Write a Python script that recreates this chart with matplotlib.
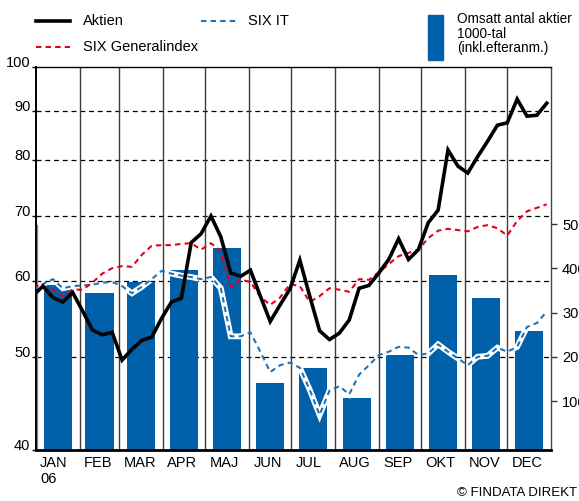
import matplotlib
matplotlib.use("Agg")
import matplotlib.pyplot as plt
import numpy as np
import pandas as pd
from matplotlib import font_manager as fm
from matplotlib.path import Path
from matplotlib.ticker import NullLocator

# pick a narrow sans if one is installed
names = {f.name for f in fm.fontManager.ttflist}
FONT = 'Liberation Sans Narrow' if 'Liberation Sans Narrow' in names else 'Liberation Sans'
plt.rcParams['font.family'] = [FONT, 'DejaVu Sans']

# weekly closes, Friday 30 Dec 2005 .. Friday 29 Dec 2006
dates = pd.date_range('2005-12-30', periods=53, freq='7D')
days = np.array([(d - pd.Timestamp('2006-01-01')).days for d in dates])

aktien = [57.9, 59.2, 57.6, 57.0, 58.3, 55.8, 53.3, 52.7, 53.0, 49.6, 50.9,
          52.0, 52.4, 54.8, 57.0, 57.5, 65.7, 67.1, 70.0, 66.6, 61.1, 60.6,
          61.5, 57.8, 54.4, 56.6, 58.8, 63.0, 57.8, 53.2, 52.1, 52.9, 54.6,
          58.9, 59.3, 61.1, 63.1, 66.3, 63.1, 64.6, 68.9, 71.0, 82.0, 78.9,
          77.6, 80.7, 83.7, 87.0, 87.5, 92.6, 88.9, 89.1, 91.7]
general = [59.4, 59.1, 58.7, 57.8, 58.7, 58.7, 59.7, 61.0, 61.8, 62.1, 62.0,
           63.8, 65.2, 65.3, 65.3, 65.5, 65.6, 64.6, 65.6, 64.4, 59.1, 60.1,
           59.8, 57.7, 56.6, 57.6, 59.5, 59.2, 57.0, 57.8, 58.9, 58.7, 58.4,
           60.2, 60.1, 61.2, 62.4, 63.6, 64.1, 64.6, 66.4, 67.6, 67.9, 67.7,
           67.5, 68.2, 68.5, 68.0, 66.8, 69.2, 70.8, 71.4, 72.0]
six_it = [58.7, 59.5, 60.2, 58.9, 59.2, 59.3, 59.4, 59.7, 59.8, 59.2, 58.2,
          59.1, 60.2, 61.4, 61.0, 60.7, 60.5, 60.2, 60.5, 58.9, 52.5, 52.5,
          53.0, 50.6, 48.2, 49.0, 49.3, 48.7, 46.2, 43.5, 46.1, 46.6, 45.7,
          47.9, 49.0, 50.2, 50.6, 51.2, 51.1, 50.2, 50.4, 51.5, 50.6, 49.8,
          49.0, 50.0, 50.1, 51.1, 50.6, 51.2, 53.7, 54.2, 55.7]

months = ['JAN', 'FEB', 'MAR', 'APR', 'MAJ', 'JUN', 'JUL', 'AUG', 'SEP',
          'OKT', 'NOV', 'DEC']
month_len = [31, 28, 31, 30, 31, 30, 31, 31, 30, 31, 30, 31]
volume = [362, 344, 370, 396, 446, 141, 175, 107, 204, 385, 333, 259]

left_ticks = [40, 50, 60, 70, 80, 90, 100]
right_ticks = [100, 200, 300, 400, 500]

BAR = '#0060a9'
RED = '#e3001b'
BLUE = '#1f74b8'

month_start = np.concatenate([[0], np.cumsum(month_len)[:-1]])
month_mid = month_start + np.array(month_len) / 2

fig = plt.figure(figsize=(5.79, 5.01), dpi=100)
ax2 = fig.add_axes([36/579, 51/501, 515/579, 383/501])
ax = ax2.twinx()
ax.set_zorder(ax2.get_zorder() + 1)
ax.patch.set_visible(False)

# right axis: turnover bars
rlim = (-10.7, 854.8)
vol = np.array(volume, dtype=float)
bars = ax2.bar(month_mid, vol - rlim[0], bottom=rlim[0], width=20,
               color=BAR, zorder=2)
ax2.set_ylim(*rlim)
ax2.set_xlim(0, 365)

# left axis is logarithmic
ax.set_yscale('log')
ax.set_ylim(40, 100)
ax.set_xlim(0, 365)

# grid + month dividers behind the bars
for v in left_ticks[1:-1]:
    ax2.plot([0, 1], [v, v], transform=ax.get_yaxis_transform(),
             color='black', lw=0.9, ls=(0, (4, 3)), zorder=0)
for d in month_start[1:]:
    ax2.axvline(d, color='#3c3c3c', lw=1.0, zorder=0.5)

# white halo of SIX IT only where it passes over bars
rects = [Path.unit_rectangle().transformed(
    matplotlib.transforms.Affine2D().scale(b.get_width(), b.get_height())
    .translate(b.get_x(), b.get_y())) for b in bars]
clip = Path.make_compound_path(*rects)
halo, = ax.plot(days, six_it, color='white', lw=4.2, zorder=2,
                solid_joinstyle='miter')
halo.set_clip_path(clip, ax2.transData)

ax.plot([0.7, 0.7], [40, 68.6], color='#8a8a8a', lw=1.0, zorder=1)
ax.plot(days, six_it, color=BLUE, lw=1.5, ls=(0, (2.6, 2.0)), zorder=3)
ax.plot(days, general, color=RED, lw=1.5, ls=(0, (2.6, 2.0)), zorder=4)
ax.plot(days, aktien, color='black', lw=2.6, zorder=5,
        solid_joinstyle='miter')

# ticks on the left (log) axis
ax.yaxis.tick_left()
ax.set_yticks(left_ticks)
ax.yaxis.set_minor_locator(NullLocator())
ax.set_yticklabels([str(t) for t in left_ticks], fontsize=10.5)
for lbl in ax.get_yticklabels():
    lbl.set_verticalalignment('baseline')
ax.tick_params(axis='y', which='major', direction='out', length=3, width=1,
               pad=1, left=True, right=False, labelleft=True,
               labelright=False)
ax.tick_params(axis='x', length=0, labelbottom=False)

# right axis labels run off the edge of the picture, as in the original
ax2.yaxis.tick_right()
ax2.set_yticks(right_ticks)
ax2.set_yticklabels([str(t) for t in right_ticks], fontsize=10.5)
ax2.tick_params(axis='y', direction='out', length=4, width=1, pad=4,
                color='#333333')
ax2.tick_params(axis='x', length=0, labelbottom=False)

for s in ['left', 'top', 'bottom', 'right']:
    ax2.spines[s].set_visible(s == 'right')
ax2.spines['right'].set_linewidth(1.0)
ax2.spines['right'].set_color('#444444')
ax.spines['right'].set_visible(False)
ax.spines['left'].set_linewidth(1.4)
ax.spines['top'].set_linewidth(1.0)
ax.spines['bottom'].set_linewidth(2.0)

# month labels
xt = ax.get_xaxis_transform()
for name, d in zip(months, month_start):
    lab = name + '\n06' if name == 'JAN' else name
    ax.text(d + 3, -0.016, lab, transform=xt, ha='left', va='top',
            fontsize=10.5, linespacing=1.15, multialignment='left')

# legend and credit in figure pixels
lg = fig.add_axes([0, 0, 1, 1])
lg.set_xlim(0, 579)
lg.set_ylim(501, 0)
lg.axis('off')
lg.set_zorder(10)
lg.plot([36, 70], [21, 21], color='black', lw=2.6)
lg.text(83, 21, 'Aktien', va='center', fontsize=10.5)
lg.plot([201, 236], [21, 21], color=BLUE, lw=1.5, ls=(0, (2.6, 2.0)))
lg.text(248, 21, 'SIX IT', va='center', fontsize=10.5)
lg.plot([36, 70], [47, 47], color=RED, lw=1.5, ls=(0, (2.6, 2.0)))
lg.text(83, 47, 'SIX Generalindex', va='center', fontsize=10.5)
lg.add_patch(plt.Rectangle((428, 15), 15, 45, color=BAR))
lg.text(457, 12, 'Omsatt antal aktier\n1000-tal\n(inkl.efteranm.)',
        va='top', ha='left', fontsize=9.8, linespacing=1.05)
lg.text(577, 493, '\u00a9 FINDATA DIREKT', ha='right', va='center',
        fontsize=9.5)

fig.savefig('out.png', dpi=100)
